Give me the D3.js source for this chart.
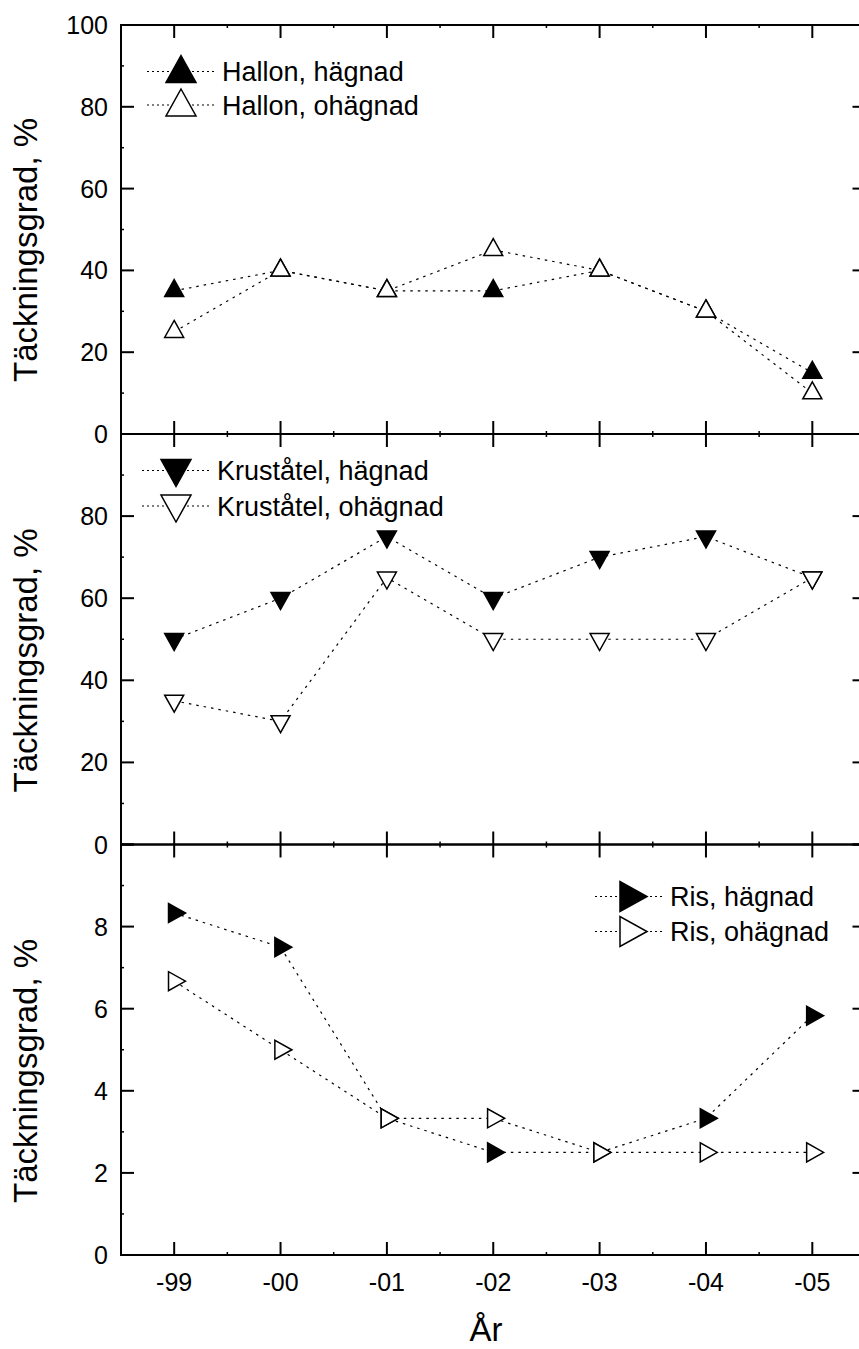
<!DOCTYPE html>
<html>
<head>
<meta charset="utf-8">
<script src="https://cdn.jsdelivr.net/npm/d3@7"></script>
<style>
  body { margin: 0; background: #fff; }
  svg { display: block; font-family: "Liberation Sans", Arial, sans-serif; }
</style>
</head>
<body>
<div id="chart"></div>
<script>
// data
const years = ["-99", "-00", "-01", "-02", "-03", "-04", "-05"];

const hallonHagnad = [35, 40, 35, 35, 40, 30, 15];
const hallonOhagnad = [25, 40, 35, 45, 40, 30, 10];
const krustatelHagnad = [50, 60, 75, 60, 70, 75, 65];
const krustatelOhagnad = [35, 30, 65, 50, 50, 50, 65];
const risHagnad = [8.33, 7.5, 3.33, 2.5, 2.5, 3.33, 5.83];
const risOhagnad = [6.67, 5, 3.33, 3.33, 2.5, 2.5, 2.5];

const hallonTicks = [0, 20, 40, 60, 80, 100];
const krustatelTicks = [0, 20, 40, 60, 80];
const risTicks = [0, 2, 4, 6, 8];

const yTitle = "Täckningsgrad, %";
const xTitle = "År";

const width = 859, height = 1349;
const left = 121, right = 865.5;

const svg = d3.select("#chart").append("svg")
    .attr("width", width)
    .attr("height", height);

const x = d3.scaleLinear()
    .domain([-0.5, years.length - 0.5])
    .range([left, right]);

const panels = [
    {top: 25, bottom: 434, max: 100, step: 20, labels: hallonTicks, dir: "up",
     series: [
        {name: "Hallon, hägnad", values: hallonHagnad, filled: true},
        {name: "Hallon, ohägnad", values: hallonOhagnad, filled: false}
     ],
     legend: {x: 181, ys: [71.5, 105]}},
    {top: 434, bottom: 844.5, max: 100, step: 20, labels: krustatelTicks, dir: "down",
     series: [
        {name: "Kruståtel, hägnad", values: krustatelHagnad, filled: true},
        {name: "Kruståtel, ohägnad", values: krustatelOhagnad, filled: false}
     ],
     legend: {x: 176, ys: [470.5, 506]}},
    {top: 844.5, bottom: 1255, max: 10, step: 2, labels: risTicks, dir: "right",
     series: [
        {name: "Ris, hägnad", values: risHagnad, filled: true},
        {name: "Ris, ohägnad", values: risOhagnad, filled: false}
     ],
     legend: {x: 629, ys: [896.5, 931.5]}}
];

// triangle placed by its centroid, base b, height h
function triangle(dir, b, h) {
    const p = `M0,${-2 * h / 3}L${b / 2},${h / 3}L${-b / 2},${h / 3}Z`;
    const rot = {up: 0, down: 180, right: 90}[dir];
    return {d: p, rot: rot};
}

const line = d3.line();

panels.forEach((p, pi) => {
    const y = d3.scaleLinear().domain([0, p.max]).range([p.bottom, p.top]);
    const g = svg.append("g");

    // frame
    g.append("rect")
        .attr("x", left).attr("y", p.top)
        .attr("width", right - left).attr("height", p.bottom - p.top)
        .attr("fill", "none").attr("stroke", "#000").attr("stroke-width", 2);

    // x ticks (major at categories, minor between)
    const majorX = d3.range(years.length);
    const minorX = d3.range(years.length - 1).map(i => i + 0.5);
    majorX.forEach(i => {
        g.append("line").attr("x1", x(i)).attr("x2", x(i))
            .attr("y1", p.bottom).attr("y2", p.bottom - 13)
            .attr("stroke", "#000").attr("stroke-width", 2);
        g.append("line").attr("x1", x(i)).attr("x2", x(i))
            .attr("y1", p.top).attr("y2", p.top + 13)
            .attr("stroke", "#000").attr("stroke-width", 2);
    });
    minorX.forEach(i => {
        g.append("line").attr("x1", x(i)).attr("x2", x(i))
            .attr("y1", p.bottom).attr("y2", p.bottom - 3)
            .attr("stroke", "#000").attr("stroke-width", 1.5);
        g.append("line").attr("x1", x(i)).attr("x2", x(i))
            .attr("y1", p.top).attr("y2", p.top + 3)
            .attr("stroke", "#000").attr("stroke-width", 1.5);
    });

    // y ticks
    const majorY = d3.range(0, p.max + 0.001, p.step);
    const minorY = d3.range(p.step / 2, p.max, p.step);
    majorY.forEach(v => {
        g.append("line").attr("x1", left).attr("x2", left + 13)
            .attr("y1", y(v)).attr("y2", y(v))
            .attr("stroke", "#000").attr("stroke-width", 2);
        g.append("line").attr("x1", right).attr("x2", right - 13)
            .attr("y1", y(v)).attr("y2", y(v))
            .attr("stroke", "#000").attr("stroke-width", 2);
    });
    minorY.forEach(v => {
        g.append("line").attr("x1", left).attr("x2", left + 3)
            .attr("y1", y(v)).attr("y2", y(v))
            .attr("stroke", "#000").attr("stroke-width", 1.5);
        g.append("line").attr("x1", right).attr("x2", right - 3)
            .attr("y1", y(v)).attr("y2", y(v))
            .attr("stroke", "#000").attr("stroke-width", 1.5);
    });

    g.selectAll(".ylab")
        .data(p.labels)
        .join("text")
        .attr("x", left - 13)
        .attr("y", d => y(d))
        .attr("dy", "0.36em")
        .attr("text-anchor", "end")
        .style("font-size", "25px")
        .text(d => d);

    // y title
    g.append("text")
        .attr("transform", `translate(37,${p.bottom - 52}) rotate(-90)`)
        .attr("text-anchor", "start")
        .style("font-size", "33px")
        .text(yTitle);

    // series
    p.series.forEach(s => {
        const pts = s.values.map((v, i) => [x(i), y(v)]);
        g.append("path")
            .attr("d", line(pts))
            .attr("fill", "none")
            .attr("stroke", "#000")
            .attr("stroke-width", 1.2)
            .attr("stroke-dasharray", "2.5,5");
    });
    p.series.forEach(s => {
        const tri = triangle(p.dir, 19, 17);
        g.selectAll(null)
            .data(s.values)
            .join("path")
            .attr("d", tri.d)
            .attr("transform", (v, i) => `translate(${x(i)},${y(v)}) rotate(${tri.rot})`)
            .attr("fill", s.filled ? "#000" : "#fff")
            .attr("stroke", "#000")
            .attr("stroke-width", 1.5);
    });

    // legend
    p.series.forEach((s, si) => {
        const ly = p.legend.ys[si];
        const lx = p.legend.x;
        g.append("line")
            .attr("x1", lx - 34).attr("x2", lx + 34)
            .attr("y1", ly).attr("y2", ly)
            .attr("stroke", "#000").attr("stroke-width", 1.2)
            .attr("stroke-dasharray", "2,3");
        const tri = triangle(p.dir, 30, 27);
        g.append("path")
            .attr("d", tri.d)
            .attr("transform", `translate(${lx},${ly + (p.dir === "up" ? 2 : p.dir === "down" ? -2 : 0)}) rotate(${tri.rot})`)
            .attr("fill", s.filled ? "#000" : "#fff")
            .attr("stroke", "#000")
            .attr("stroke-width", 1.5);
        g.append("text")
            .attr("x", lx + 41)
            .attr("y", ly + 9.5)
            .style("font-size", "27px")
            .text(s.name);
    });

    // x tick labels only under the last panel
    if (pi === panels.length - 1) {
        g.selectAll(".xlab")
            .data(years)
            .join("text")
            .attr("x", (d, i) => x(i))
            .attr("y", p.bottom + 36)
            .attr("text-anchor", "middle")
            .style("font-size", "25px")
            .text(d => d);
        g.append("text")
            .attr("x", 486)
            .attr("y", p.bottom + 86)
            .attr("text-anchor", "middle")
            .style("font-size", "33px")
            .text(xTitle);
    }
});
</script>
</body>
</html>
